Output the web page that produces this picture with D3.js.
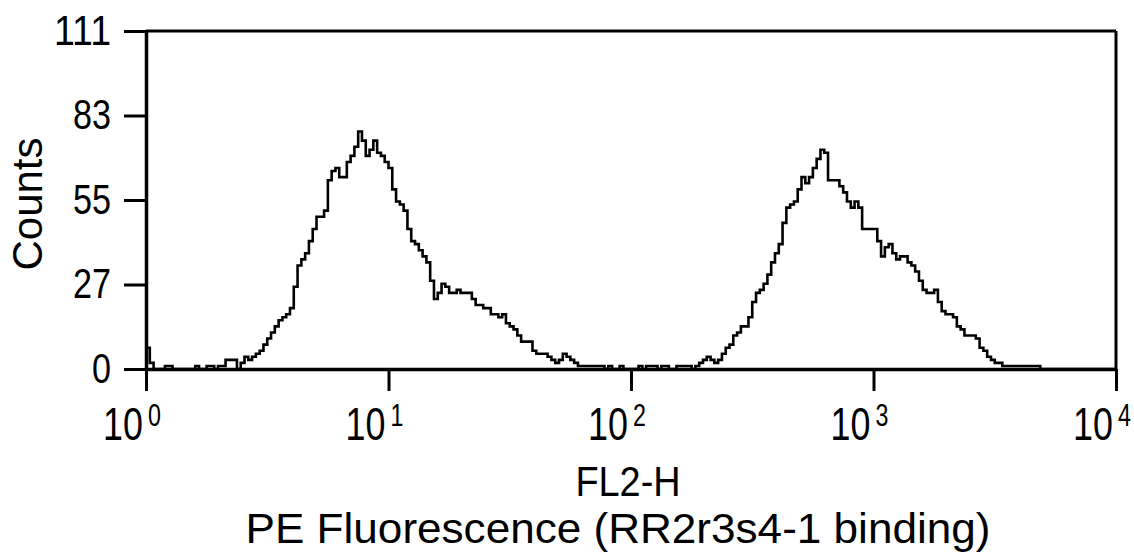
<!DOCTYPE html>
<meta http-equiv="Content-type" content="text/html; charset=UTF-8"/>
<style>
  body { margin: 0; background: #fff; }
  * { font-family: 'Liberation Sans', Arial, sans-serif; }
</style>
<svg width="1134" height="558"></svg>
<script src="https://d3js.org/d3.v7.min.js"></script>
<script>
// FL2-H histogram, 256 log channels over 4 decades (64 per decade)
var channelsPerDecade = 64;
var counts = [
  7, 2, 0, 0, 0, 1, 1, 0, 0, 0, 0, 0, 0, 1, 0, 0,
  1, 1, 0, 1, 1, 3, 3, 3, 0, 2, 4, 3, 4, 5, 6, 8,
  10, 12, 14, 16, 17, 18, 20, 27, 34, 36, 38, 42, 46, 50, 50, 52,
  62, 65, 66, 63, 63, 68, 70, 73, 78, 75, 70, 72, 75, 71, 70, 68,
  66, 59, 55, 54, 52, 46, 42, 41, 39, 37, 35, 29, 23, 25, 28, 27,
  25, 25, 26, 25, 25, 25, 23, 21, 21, 20, 20, 18, 18, 17, 18, 15,
  14, 13, 11, 9, 9, 9, 6, 5, 5, 5, 4, 3, 2, 3, 5, 4,
  3, 2, 1, 1, 1, 1, 1, 1, 1, 0, 1, 0, 0, 1, 0, 0,
  0, 0, 1, 0, 1, 1, 1, 0, 1, 1, 0, 0, 1, 1, 1, 1,
  0, 1, 2, 3, 4, 3, 2, 3, 5, 7, 8, 11, 12, 14, 14, 17,
  22, 25, 26, 28, 31, 35, 38, 41, 48, 53, 54, 55, 59, 63, 61, 63,
  66, 69, 72, 71, 62, 62, 62, 60, 58, 55, 53, 55, 53, 46, 46, 46,
  46, 42, 37, 40, 41, 38, 36, 37, 37, 35, 34, 32, 29, 26, 25, 25,
  26, 22, 19, 18, 18, 17, 14, 13, 11, 11, 11, 10, 7, 6, 4, 3,
  2, 2, 1, 1, 1, 1, 1, 1, 1, 1, 1, 1, 0, 0, 0, 0,
  0, 0, 0, 0, 0, 0, 0, 0, 0, 0, 0, 0, 0, 0, 0, 0
];
var yMax = 111;
var yTicks = [0, 27.75, 55.5, 83.25, 111];   // quarter marks, labels truncated
var xDecades = [0, 1, 2, 3, 4];
var yTitle = "Counts";
var xTitle1 = "FL2-H";
var xTitle2 = "PE Fluorescence (RR2r3s4-1 binding)";

var svg = d3.select("svg"),
    margin = {top: 31, right: 18, bottom: 189, left: 146},
    width = +svg.attr("width") - margin.left - margin.right,
    height = +svg.attr("height") - margin.top - margin.bottom,
    g = svg.append("g").attr("transform", "translate(" + margin.left + "," + margin.top + ")");

var x = d3.scaleLog()
    .domain([1, 10000])
    .range([0, width]);

var y = d3.scaleLinear()
    .domain([0, yMax])
    .range([height, 0]);

// histogram as steps
var pts = counts.map(function(d, i) { return [Math.pow(10, i / channelsPerDecade), d]; });
pts.push([10000, counts[counts.length - 1]]);

var line = d3.line()
    .curve(d3.curveStepAfter)
    .x(function(d) { return x(d[0]); })
    .y(function(d) { return y(d[1]); });

g.append("path")
    .datum(pts)
    .attr("fill", "none")
    .attr("stroke", "#000")
    .attr("stroke-width", 2.6)
    .attr("d", line);

// frame: top and right
g.append("line")
    .attr("x1", x(1)).attr("x2", x(10000))
    .attr("y1", y(yMax)).attr("y2", y(yMax))
    .attr("stroke", "#000").attr("stroke-width", 3);
g.append("line")
    .attr("x1", x(10000)).attr("x2", x(10000))
    .attr("y1", y(yMax)).attr("y2", y(0))
    .attr("stroke", "#000").attr("stroke-width", 3);

// y axis
var yAxis = g.append("g")
    .call(d3.axisLeft(y)
      .tickValues(yTicks)
      .tickFormat(function(d) { return Math.floor(d); })
      .tickSize(22)
      .tickSizeOuter(0)
      .tickPadding(13));
yAxis.select(".domain").attr("stroke-width", 3.5);
yAxis.selectAll(".tick line").attr("stroke-width", 3);
yAxis.selectAll(".tick text")
    .attr("font-size", 42)
    .attr("fill", "#000")
    .attr("textLength", function(d) { return String(Math.floor(d)).length * 19; })
    .attr("lengthAdjust", "spacingAndGlyphs");

// x axis
var xAxis = g.append("g")
    .attr("transform", "translate(0," + height + ")")
    .call(d3.axisBottom(x)
      .tickValues(xDecades.map(function(p) { return Math.pow(10, p); }))
      .tickFormat("")
      .tickSize(22)
      .tickSizeOuter(0));
xAxis.select(".domain").attr("stroke-width", 3.5);
xAxis.selectAll(".tick line").attr("stroke-width", 3);

// decade labels: condensed "10" ending at the tick, exponent raised just after it
var xl = g.selectAll("g.decade")
    .data(xDecades)
  .enter().append("g")
    .attr("class", "decade")
    .attr("transform", function(p) { return "translate(" + x(Math.pow(10, p)) + "," + (height + 71) + ")"; });
xl.append("text")
    .attr("transform", "translate(-3,0) scale(0.78,1)")
    .attr("text-anchor", "end")
    .attr("font-size", 46)
    .text("10");
xl.append("text")
    .attr("transform", "translate(2,-14) scale(0.75,1)")
    .attr("font-size", 31)
    .text(function(p) { return p; });

// titles
svg.append("text")
    .attr("transform", "translate(42," + (margin.top + 173) + ") rotate(-90)")
    .attr("text-anchor", "middle")
    .attr("font-size", 42)
    .text(yTitle);

svg.append("text")
    .attr("transform", "translate(628,496) scale(0.88,1)")
    .attr("text-anchor", "middle")
    .attr("font-size", 43)
    .text(xTitle1);

svg.append("text")
    .attr("transform", "translate(618,543) scale(1.05,1)")
    .attr("text-anchor", "middle")
    .attr("font-size", 42)
    .text(xTitle2);
</script>
